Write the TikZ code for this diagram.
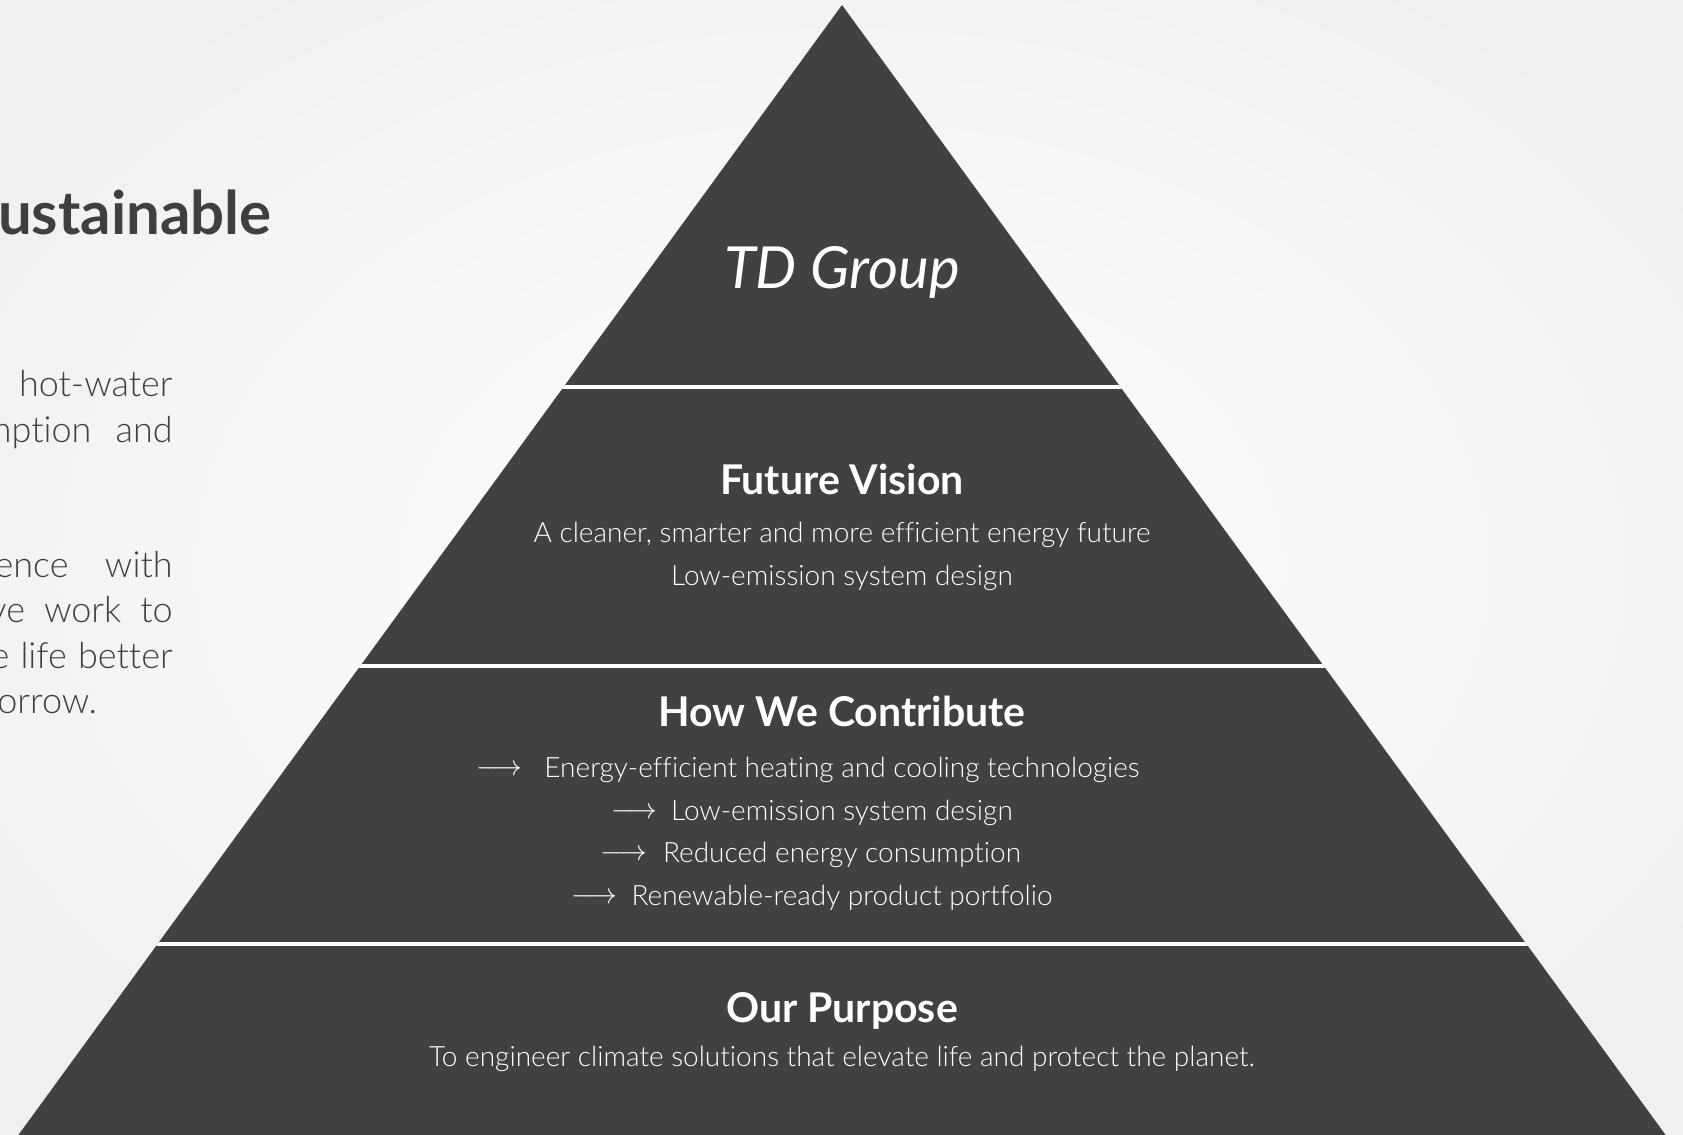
\documentclass[tikz,border=0pt]{standalone}
\usepackage{fontspec}
\setmainfont{Lato}[Ligatures=NoCommon]
\newfontfamily\lightfont{Lato Light}[Ligatures=NoCommon]
\usepackage{xcolor}
\usetikzlibrary{positioning}

\definecolor{slate}{HTML}{404143}
\definecolor{ink}{HTML}{3E3F41}

\begin{document}
\begin{tikzpicture}[x=0.5pt,y=-0.5pt,node distance=21.5pt,on grid,
   txt/.style={inner sep=0pt,text=white,font=\lightfont\fontsize{14}{16}\selectfont},
   head/.style={inner sep=0pt,text=white,font=\fontsize{20.5}{24}\selectfont\bfseries},
   arr/.style={inner sep=0pt,text=white,anchor=east,font=\fontsize{14.5}{16}\selectfont},
   side/.style={inner sep=0pt,text=ink,font=\lightfont\fontsize{18}{21}\selectfont}]
   \useasboundingbox (0,0) rectangle (1683,1135);
   \clip (0,0) rectangle (1683,1135);
   \shade[inner color=white,outer color=black!6] (-200,-150) rectangle (1883,1285);

   % pyramid
   \coordinate (apex) at (842,5);
   \coordinate (bl) at (14,1141);
   \coordinate (br) at (1670,1141);
   \fill[slate] (apex) -- (bl) -- (br) -- cycle;
   \begin{scope}
     \clip (apex) -- (bl) -- (br) -- cycle;
     \foreach \y in {387,666,944}
       \draw[white,line width=2.4pt] (0,\y) -- (1683,\y);
   \end{scope}

   % tiers
   \node[inner sep=0pt,text=white,font=\fontsize{29}{32}\selectfont\itshape] (tdg) at (842,272) {TD Group};

   \node[head] (fv) at (842,479) {Future Vision};
   \node[txt] (fv1) [below=28pt of fv] {A cleaner, smarter and more efficient energy future};
   \node[txt] (fv2) [below=of fv1] {Low-emission system design};

   \node[head] (hwc) at (842,711) {How We Contribute};
   \node[txt] (c1) [below=29.5pt of hwc] {Energy-efficient heating and cooling technologies};
   \node[txt] (c2) [below=of c1] {Low-emission system design};
   \node[txt] (c3) [below=21pt of c2] {Reduced energy consumption};
   \node[txt] (c4) [below=of c3] {Renewable-ready product portfolio};
   \node[arr] (a1) at ([xshift=-10.5pt]c1.west) {$\longrightarrow$};
   \node[arr] (a2) at ([xshift=-6.5pt]c2.west) {$\longrightarrow$};
   \node[arr] (a3) at ([xshift=-7.5pt]c3.west) {$\longrightarrow$};
   \node[arr] (a4) at ([xshift=-6.5pt]c4.west) {$\longrightarrow$};

   \node[head] (op) at (842,1011) {Our Purpose};
   \node[txt] (op1) [below=24pt of op] {To engineer climate solutions that elevate life and protect the planet.};

   % left column
   \node[side,anchor=east,font=\fontsize{30}{34}\selectfont\bfseries] (ttl) at (272,212) {ustainable};
   \node[side,anchor=base east] (p1) at (173,396) {hot-water};
   \node[side,anchor=base east] (p2) at (173,442) {\makebox[95pt][s]{mption and}};
   \node[side,anchor=base east] (p3) at (173,577) {\makebox[89pt][s]{ence with}};
   \node[side,anchor=base east] (p4) at (173,622) {\makebox[92pt][s]{ve work to}};
   \node[side,anchor=base east] (p5) at (173,668) {\makebox[91pt][s]{e life better}};
   \node[side,anchor=base west] (p6) at (-3,713) {orrow.};
\end{tikzpicture}
\end{document}
